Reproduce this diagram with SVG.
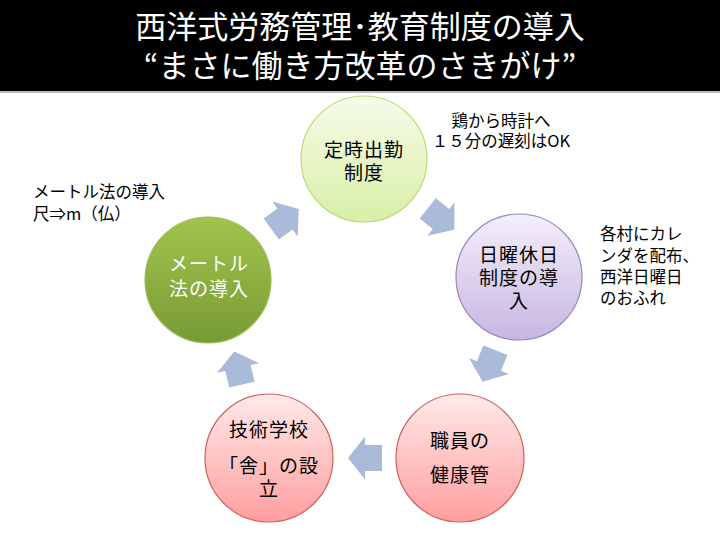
<svg xmlns="http://www.w3.org/2000/svg" xmlns:xlink="http://www.w3.org/1999/xlink" width="720" height="540" viewBox="0 0 720 540">
  <defs>
    <linearGradient id="gTop" x1="0" y1="0" x2="0" y2="1">
      <stop offset="0" stop-color="#f6fbe9"/>
      <stop offset="1" stop-color="#d9efa6"/>
    </linearGradient>
    <linearGradient id="gPurple" x1="0" y1="0" x2="0" y2="1">
      <stop offset="0" stop-color="#f3effa"/>
      <stop offset="1" stop-color="#c7b6e2"/>
    </linearGradient>
    <linearGradient id="gPink" x1="0" y1="0" x2="0" y2="1">
      <stop offset="0" stop-color="#ffeaea"/>
      <stop offset="1" stop-color="#ff9e9e"/>
    </linearGradient>
    <linearGradient id="gGreen" x1="0" y1="0" x2="0" y2="1">
      <stop offset="0" stop-color="#a2c44c"/>
      <stop offset="1" stop-color="#789a35"/>
    </linearGradient>
    <path id="arrow" d="M-17,-13 L0,-13 L0,-21.5 L17,0 L0,21.5 L0,13 L-17,13 Z"/>
    <style>
      .jp { font-family: "Noto Sans CJK JP", "Noto Sans", sans-serif; }
      .title { fill: #ffffff; font-size: 31px; text-anchor: middle; }
      .node { fill: #000000; font-size: 19px; letter-spacing: 1px; text-anchor: middle; }
      .nodew { fill: #ffffff; font-size: 19px; letter-spacing: 1px; text-anchor: middle; }
      .note { fill: #000000; font-size: 16.5px; }
      .arr { fill: #a9bbd9; }
    </style>
  </defs>

  <rect x="0" y="0" width="720" height="540" fill="#ffffff"/>

  <g id="title">
    <rect x="0" y="0" width="720" height="91" fill="#000000"/>
    <rect x="0" y="91" width="720" height="2" fill="#bdbdbd"/>
    <text class="jp title" x="360" y="38">西洋式労務管理･教育制度の導入</text>
    <text class="jp title" x="360" y="77">“まさに働き方改革のさきがけ”</text>
  </g>

  <g id="connectors" class="arr">
    <use xlink:href="#arrow" transform="translate(285,219) rotate(-36)"/>
    <use xlink:href="#arrow" transform="translate(441,219) rotate(39)"/>
    <use xlink:href="#arrow" transform="translate(489,366) rotate(112)"/>
    <use xlink:href="#arrow" transform="translate(365,458) rotate(180)"/>
    <use xlink:href="#arrow" transform="translate(238,368) rotate(-103)"/>
  </g>

  <g id="node-teiji">
    <circle cx="364" cy="159" r="63" fill="url(#gTop)" stroke="#bcdb78" stroke-width="1.2"/>
    <text class="jp node" x="364" y="157">定時出勤</text>
    <text class="jp node" x="364" y="180">制度</text>
  </g>

  <g id="node-kyujitsu">
    <circle cx="519" cy="277" r="63" fill="url(#gPurple)" stroke="#9a86c0" stroke-width="1.2"/>
    <text class="jp node" x="519" y="262">日曜休日</text>
    <text class="jp node" x="519" y="285">制度の導</text>
    <text class="jp node" x="519" y="308">入</text>
  </g>

  <g id="node-kenko">
    <circle cx="460" cy="458" r="64" fill="url(#gPink)" stroke="#d0605c" stroke-width="1.2"/>
    <text class="jp node" x="460" y="448">職員の</text>
    <text class="jp node" x="460" y="482">健康管</text>
  </g>

  <g id="node-gakko">
    <circle cx="269" cy="458" r="64" fill="url(#gPink)" stroke="#d0605c" stroke-width="1.2"/>
    <text class="jp node" x="269" y="437">技術学校</text>
    <text class="jp node" x="269" y="473">「舎」の設</text>
    <text class="jp node" x="269" y="496">立</text>
  </g>

  <g id="node-metre">
    <circle cx="208" cy="280" r="63" fill="url(#gGreen)" stroke="#9bbb59" stroke-width="1.2"/>
    <text class="jp nodew" x="209" y="271">メートル</text>
    <text class="jp nodew" x="209" y="296">法の導入</text>
  </g>

  <g id="notes">
    <text class="jp note" x="501" y="127" text-anchor="middle">鶏から時計へ</text>
    <text class="jp note" x="501" y="147" text-anchor="middle">１５分の遅刻はOK</text>
    <text class="jp note" x="600" y="240">各村にカレ</text>
    <text class="jp note" x="600" y="262">ンダを配布、</text>
    <text class="jp note" x="600" y="283">西洋日曜日</text>
    <text class="jp note" x="600" y="304">のおふれ</text>
    <text class="jp note" x="33" y="198">メートル法の導入</text>
    <text class="jp note" x="33" y="220">尺⇒m（仏）</text>
  </g>
</svg>
